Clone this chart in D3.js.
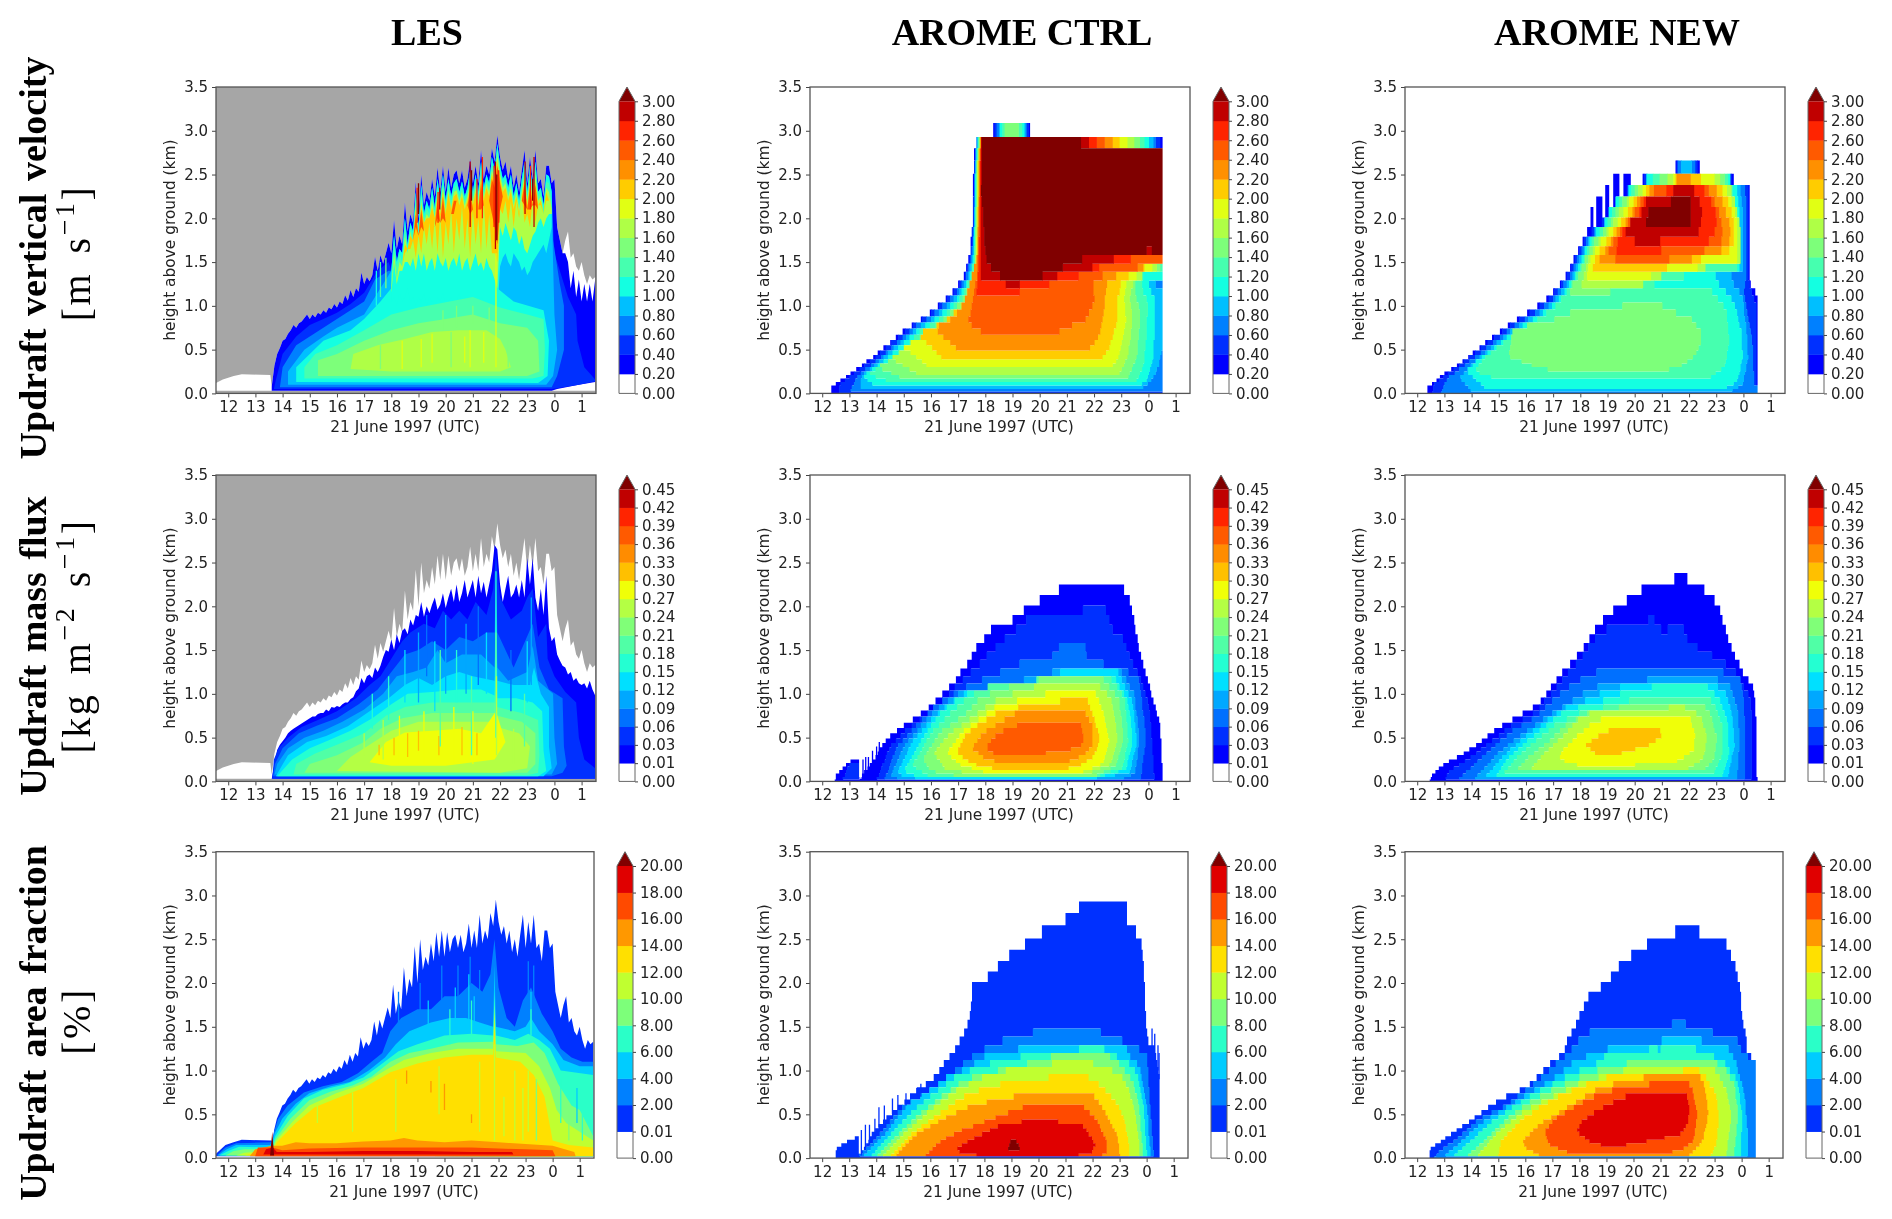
<!DOCTYPE html>
<html><head><meta charset="utf-8"><script src="https://cdn.jsdelivr.net/npm/d3@7"></script>
<style>html,body{margin:0;background:#fff}svg{display:block;filter:blur(.35px)}</style></head><body><svg id="c" width="1892" height="1219"></svg>
<script>
const columnTitles=["LES","AROME CTRL","AROME NEW"];
const hourTicks=[12,13,14,15,16,17,18,19,20,21,22,23,24,25];
const heightTicks=[0,0.5,1,1.5,2,2.5,3,3.5];
const wLabels=["0.00","0.20","0.40","0.60","0.80","1.00","1.20","1.40","1.60","1.80","2.00","2.20","2.40","2.60","2.80","3.00"];
const fluxLabels=["0.00","0.01","0.03","0.06","0.09","0.12","0.15","0.18","0.21","0.24","0.27","0.30","0.33","0.36","0.39","0.42","0.45"];
const areaLabels=["0.00","0.01","2.00","4.00","6.00","8.00","10.00","12.00","14.00","16.00","18.00","20.00"];
const wColors=["#ffffff","#0000ff","#0030ff","#0080ff","#00bfff","#14ffe1","#46ffaf","#7dff7a","#afff46","#e1ff14","#ffcc00","#ff9000","#ff5a00","#ff2400","#c00000","#800000"];
const fluxColors=["#ffffff","#0000ff","#0030ff","#0070ff","#00a8ff","#00e0ff","#24ffd2","#50ffa6","#80ff78","#b4ff44","#f0ff08","#ffc000","#ff8c00","#ff5a00","#ff2400","#c00000","#800000"];
const areaColors=["#ffffff","#0030ff","#0080ff","#00ccff","#2affc8","#7dff7a","#c0ff30","#ffe000","#ff9800","#ff4a00","#e00000","#800000"];
// model layer boundaries (km) of the AROME panels
const modelLayers=[0,.02,.05,.09,.13,.17,.21,.25,.30,.34,.39,.44,.49,.55,.61,.67,.74,.81,.88,.96,1.04,1.12,1.20,1.29,1.39,1.48,1.58,1.68,1.79,1.90,2.01,2.13,2.25,2.38,2.51,2.66,2.80,2.93,3.09];
// LES cloud-top heights, every 6 min from 13.6 h
const lesTop=[.08,.32,.45,.52,.6,.62,.68,.72,.78,.75,.8,.82,.86,.9,.85,.9,.87,.92,.9,.95,.92,.98,.96,1.02,.98,1.05,1.02,1.12,1.06,1.18,1.1,1.2,1.16,1.38,1.25,1.33,1.28,1.35,1.56,1.4,1.58,1.48,1.6,1.72,1.6,1.98,1.65,1.8,1.7,2.18,1.85,2.05,1.95,2.42,2,2.5,2.15,2.3,2.2,2.45,2.25,2.58,2.3,2.6,2.3,2.58,2.35,2.5,2.55,2.4,2.55,2.35,2.45,2.68,2.4,2.6,2.4,2.78,2.45,2.6,2.5,2.8,2.65,2.95,2.7,2.55,2.65,2.45,2.6,2.35,2.5,2.3,2.55,2.78,2.4,2.7,2.45,2.78,2.4,2.45,2.25,2.6,2.6,2.4,2.45,1.9,1.75,1.6,1.75,1.85,1.55,1.6,1.45,1.4,1.5,1.35,1.25,1.35,1.3,1.33];
const fluxTop=[.03,.2,.36,.42,.46,.5,.55,.58,.6,.62,.64,.66,.68,.7,.72,.74,.74,.77,.78,.78,.82,.8,.85,.84,.86,.85,.88,.9,.9,.94,.96,1.03,1.06,1.18,1.12,1.2,1.22,1.18,1.3,1.25,1.32,1.42,1.5,1.48,1.62,1.5,1.68,1.58,1.72,1.75,1.68,1.85,1.78,1.9,1.88,2.05,1.88,2,1.92,2.02,2.1,1.96,2.02,2.15,1.98,2.1,2.2,2.05,2.25,2.05,2.15,2.3,2.1,2.2,2.3,2.1,2.35,2.15,2.28,2.1,2.25,2.4,2.7,2.65,2.25,2.05,2.2,2.35,2.1,2.15,2.25,2.1,2.3,2.1,2.55,2.25,2.55,2.1,1.95,2.2,1.9,2.35,1.75,1.6,1.65,1.45,1.38,1.32,1.3,1.22,1.25,1.15,1.18,1.12,1.1,1.12,1.06,1.15,1.05,.98];
const lesTimes=d3.range(lesTop.length).map(i=>13.6+i/10);
const lesLeft=[11.55,.03,11.55,.12,11.8,.16,12.2,.2,12.5,.22,13.55,.21];
const env=(arr,a,b)=>lesTimes.flatMap((t,i)=>t>=a-.01&&t<=b+.01?[t,arr[i]]:[]);
// LES vertical velocity in the cloud layer: tops and bases of the streaky bands, every 6 min from 18 h
const upperTimes=d3.range(60).map(i=>18+i/10);
const coreTop=[1.4,1.8,1.5,1.65,1.6,2,1.7,1.95,1.85,2.3,1.9,2.38,2.05,2.2,2.1,2.35,2.12,2.45,2.2,2.5,2.2,2.45,2.25,2.4,2.45,2.3,2.42,2.25,2.35,2.55,2.3,2.5,2.3,2.65,2.35,2.5,2.4,2.7,2.55,2.85,2.6,2.45,2.5,2.35,2.5,2.25,2.4,2.2,2.45,2.65,2.3,2.6,2.35,2.65,2.3,2.35,2.15,2.5,2.48,2.3];
const tealTop=[1.3,1.7,1.45,1.6,1.5,1.9,1.65,1.9,1.8,2.22,1.85,2.3,2,2.12,2.05,2.28,2.08,2.38,2.15,2.42,2.15,2.4,2.2,2.35,2.38,2.25,2.35,2.2,2.3,2.5,2.25,2.42,2.25,2.58,2.3,2.45,2.35,2.62,2.5,2.8,2.55,2.4,2.45,2.3,2.42,2.2,2.35,2.15,2.38,2.58,2.25,2.52,2.3,2.58,2.25,2.3,2.1,2.42,2.4,2.2];
const tealBase=[1.05,1.1,1,1.15,1.05,1.1,1.2,1.05,1.1,1,1.1,1.05,1.15,1,1.1,1.05,1,1.1,1.05,1.15,1,1.05,1.1,1,1.05,1.15,1,1.1,1.05,1,1.1,1.05,1,1.1,1.05,1,1.05,1,.95,.9,1.45,1.55,1.6,1.5,1.45,1.6,1.55,1.5,1.4,1.45,1.35,1.4,1.5,1.55,1.6,1.65,1.7,1.6,1.75,1.9];
const limeTop=[1.2,1.6,1.3,1.5,1.45,1.8,1.6,1.85,1.7,2.15,1.75,2.2,1.95,2.05,2,2.2,2,2.3,2.1,2.35,2.1,2.32,2.12,2.3,2.32,2.2,2.3,2.15,2.25,2.42,2.2,2.35,2.2,2.5,2.25,2.4,2.3,2.55,2.45,2.72,2.5,2.35,2.4,2.25,2.35,2.15,2.3,2.1,2.3,2.5,2.2,2.45,2.25,2.5,2.2,2.25,2.05,2.35,2.3,2.1];
const limeBase=[1.15,1.5,1.25,1.4,1.4,1.5,1.5,1.45,1.55,1.4,1.6,1.45,1.6,1.4,1.5,1.55,1.4,1.6,1.5,1.45,1.55,1.4,1.5,1.55,1.45,1.6,1.4,1.5,1.55,1.4,1.5,1.6,1.45,1.5,1.4,1.55,1.45,1.4,1.3,1.2,1.9,1.8,1.95,1.85,1.75,1.9,1.85,1.7,1.8,1.65,1.6,1.7,1.8,1.85,1.95,2,1.9,2,2.05,2.05];
const goldTop=[1.2,1.3,1.3,1.4,1.45,1.7,1.65,1.8,1.75,2.1,1.8,2.15,1.95,2,2,2.12,2,2.25,2.05,2.3,2.05,2.28,2.1,2.25,2.28,2.15,2.25,2.1,2.2,2.38,2.15,2.3,2.15,2.45,2.2,2.35,2.25,2.5,2.4,2.65,2.45,2.3,2.35,2.2,2.3,2.1,2.25,2.05,2.25,2.45,2.15,2.4,2.2,2.42,2.15,2.2,2.05,2.3,2.2,2.1];
const goldBase=[1.2,1.3,1.3,1.4,1.45,1.6,1.65,1.65,1.75,1.55,1.8,1.6,1.9,1.7,1.95,1.65,2,1.6,2.05,1.55,1.95,1.7,2.1,1.6,2,1.75,2.15,1.65,2,1.55,2.1,1.7,2,1.6,2.2,1.65,2.05,1.6,1.6,1.5,2.1,2.05,2.2,1.95,2.2,1.9,2.2,2,2.25,1.95,2.05,1.9,2.2,1.95,2.15,2.15,2.05,2.2,2.2,2.1];
const redTop=[1.2,1.3,1.3,1.4,1.45,1.6,1.65,1.65,1.75,2.05,1.8,2.1,1.85,1.95,1.9,2.05,1.9,2.2,1.95,2.25,1.95,2.2,2.05,2.2,2.2,2.1,2.2,2.05,2.15,2.32,2.1,2.25,2.1,2.4,2.15,2.3,2.2,2.45,2.35,2.6,2.4,2.25,2.3,2.15,2.25,2.1,2.2,2.05,2.2,2.4,2.1,2.35,2.15,2.38,2.1,2.1,2.05,2.2,2.15,2.1];
const redBase=[1.2,1.3,1.3,1.4,1.45,1.6,1.65,1.65,1.75,1.9,1.8,1.9,1.85,1.95,1.9,2.05,1.9,2,1.95,2,1.95,2.2,2.05,2.05,2.2,2.1,2.2,2.05,2.15,2.05,2.1,2.25,2.1,2.1,2.15,2.3,2.2,2.05,1.9,1.7,2.1,2.25,2.3,2.15,2.25,2.1,2.2,2.05,2.2,2.15,2.1,2.1,2.15,2.15,2.1,2.1,2.05,2.2,2.15,2.1];
const band=(top,base)=>[...upperTimes.flatMap((t,i)=>[t,top[i]]),...[...upperTimes].reverse().flatMap(t=>[t,base[Math.round((t-18)*10)]])];
const core=upperTimes.flatMap((t,i)=>[t,coreTop[i]]);

// ---- Updraft vertical velocity: [band, [hour, km, hour, km, ...]]
const lesW=[
[0,[...lesLeft,...env(lesTop,13.6,25.6),25.5,.03]],
[1,[13.6,.03,...env(lesTop,13.6,24.3),24.4,1.6,24.5,1.5,24.6,1.2,24.7,1.4,24.8,1.1,24.9,1.3,25,1.05,25.1,1.25,25.2,1.05,25.3,1.25,25.4,1.05,25.5,1.3,25.5,.13,24.9,.1,24.1,.05,23.9,.03]],
[2,[13.68,.05,13.75,.15,14,.45,14.5,.65,15,.78,15.5,.85,16,.92,16.5,1.02,17,1.15,17.5,1.4,17.9,1.5,...core,24,1.6,24.2,1.4,24.5,1.1,24.8,.9,24.85,.6,25.1,.3,25.5,.16,25.5,.14,24.9,.1,24.1,.06,23.9,.05]],
[3,[13.9,.07,14,.3,14.5,.55,15,.65,15.5,.75,16,.85,16.5,.95,17,1.05,17.4,1.3,17.9,1.4,...core,23.95,1.75,24.2,1.25,24.35,1,24.35,.5,24.1,.2,23.9,.07]],
[4,[14.2,.1,14.2,.25,14.8,.5,15.5,.65,16,.75,17,.9,17.6,1.2,17.9,1.35,...core,23.95,1.5,24,.9,24.1,.5,23.95,.2,23.7,.1]],
[5,[14.5,.13,14.5,.3,15,.45,15.5,.6,16.5,.72,17,.85,17.6,1.05,18,1.2,19,1.2,21,1.2,21.9,1.2,22.5,1.05,23.6,.95,23.8,.6,23.75,.2,23.4,.12]],
[5,band(coreTop,tealBase)],
[6,[14.8,.17,14.8,.3,15.2,.45,16,.55,17,.72,18,.9,19,.98,21,1.1,22,.98,23,.9,23.6,.85,23.65,.5,23.6,.2,23.2,.17]],
[6,band(tealTop,limeBase)],
[7,[15.3,.2,15.3,.38,16,.45,17,.6,18,.72,19,.8,20,.85,21,.9,22,.8,23,.75,23.4,.6,23.45,.25,23,.2]],
[8,[16.5,.28,16.6,.45,17.5,.55,18.5,.62,19.5,.7,20.5,.72,21.5,.72,22,.62,22.2,.5,22.4,.3,22,.25,18,.25]],
[8,band(limeTop,limeBase)],
[10,band(goldTop,goldBase)],
[12,band(redTop,redBase)]
];
const lesWStreaks=[[21.83,1.65,2.65,14],[21.88,1.75,2.5,15],[21.78,1.9,2.6,13],[21.95,1.95,2.55,13],[21.85,.3,1.6,9],[18.95,1.95,2.35,13],[19,2.05,2.4,15],[19.72,1.95,2.3,13],[19.78,2.1,2.35,14],[20.9,1.9,2.65,14],[20.95,2.2,2.55,15],[21.15,2,2.45,13],[21.35,2,2.7,13],[22.92,2.05,2.65,14],[23.12,2.1,2.6,13],[23.2,2.2,2.45,15],[23.25,1.9,2.7,14],[17.6,1.1,1.5,6],[17.45,1,1.4,5],[17.8,1.2,1.55,7],[19.5,.35,.68,9],[20.7,.35,.65,9],[20.9,.3,.72,9],[21.4,.35,.7,9],[19.1,.3,.62,9],[18.4,.28,.6,9],[17.6,.28,.55,7],[22.3,.3,.6,7],[20.2,.3,.7,7],[19.9,.72,.95,7],[20.4,.75,1,7],[21,.8,1,7],[21.6,.72,.98,7]];
const ctrlW=[
[1,[12.35,0,12.35,.08,13.13,.25,13.97,.44,14.82,.67,15.38,.8,15.8,.88,16.37,1.03,16.87,1.18,17.22,1.35,17.43,1.58,17.53,1.98,17.57,2.66,17.67,2.93,18.29,2.93,18.29,3.09,19.64,3.09,19.64,2.93,24.5,2.93,24.5,0]],
[2,[12.62,0,12.62,.1,13.25,.25,14.05,.44,14.88,.67,15.42,.8,15.86,.88,16.42,1.03,16.92,1.18,17.26,1.35,17.46,1.58,17.55,1.98,17.59,2.66,17.69,2.93,18.35,2.93,18.35,3.09,19.6,3.09,19.6,2.93,24.4,2.93,24.4,2.8,24.5,2.8,24.5,0]],
[3,[13,.02,13.3,.2,14.1,.4,14.95,.64,15.48,.78,15.92,.86,16.47,1.01,16.97,1.16,17.3,1.33,17.49,1.56,17.58,1.98,17.61,2.66,17.71,2.93,18.42,2.93,18.42,3.09,19.52,3.09,19.52,2.93,24.27,2.93,24.27,2.8,24.5,2.8,24.5,.02]],
[4,[13.4,.06,13.45,.2,14.2,.4,15,.62,15.52,.76,15.97,.84,16.52,.98,17.02,1.14,17.33,1.31,17.52,1.54,17.6,1.98,17.63,2.66,17.73,2.93,18.5,2.93,18.5,3.09,19.45,3.09,19.45,2.93,24.15,2.93,24.15,2.8,24.5,2.8,24.5,1.33,24.25,1.33,24.25,1.22,24.48,1.2,24.48,.5,24.35,.3,24.1,.15,23.8,.07]],
[5,[13.9,.09,13.5,.2,14.3,.38,15.05,.6,15.58,.74,16.05,.82,16.58,.96,17.07,1.12,17.36,1.29,17.55,1.52,17.62,1.98,17.65,2.66,17.75,2.93,18.55,2.93,18.55,3.09,19.4,3.09,19.4,2.93,24,2.93,24,2.8,24.5,2.8,24.5,1.33,24,1.33,24,1.2,24.2,1.1,24.2,.7,24.15,.4,23.9,.12,23.5,.09]],
[6,[14.5,.13,13.7,.22,14.5,.38,15.2,.58,15.65,.72,16.12,.8,16.65,.94,17.12,1.1,17.39,1.27,17.57,1.5,17.64,1.98,17.67,2.66,17.77,2.93,18.62,2.93,18.62,3.09,19.32,3.09,19.32,2.93,23.85,2.93,23.85,2.8,24.5,2.8,24.5,1.4,24,1.39,23.75,1.33,23.75,1.2,23.95,1.05,23.92,.7,23.8,.3,23.5,.13]],
[7,[15,.17,14,.3,14.75,.42,15.3,.55,15.75,.7,16.2,.78,16.72,.92,17.17,1.08,17.42,1.25,17.6,1.48,17.66,1.98,17.69,2.66,17.79,2.93,18.72,2.93,18.72,3.09,19.22,3.09,19.22,2.93,23.65,2.93,23.65,2.8,24.5,2.8,24.5,1.45,24.2,1.39,23.8,1.39,23.5,1.29,23.5,1.1,23.68,.95,23.64,.7,23.55,.4,23.2,.17]],
[8,[15.5,.22,14.5,.4,15.3,.55,15.8,.68,16.3,.77,16.8,.9,17.22,1.06,17.45,1.23,17.63,1.46,17.68,1.98,17.71,2.66,17.81,2.93,23.45,2.93,23.45,2.8,24.5,2.8,24.5,1.48,24.05,1.39,23.45,1.29,23.3,1.1,23.4,.9,23.35,.7,23.2,.4,22.9,.22]],
[9,[16,.28,14.96,.53,15.5,.62,15.9,.68,16.4,.75,16.9,.88,17.27,1.04,17.48,1.21,17.65,1.44,17.7,1.98,17.73,2.66,17.82,2.93,23.2,2.93,23.2,2.8,24.5,2.8,24.5,1.5,23.85,1.39,23.2,1.29,23.1,1.1,23.15,.85,23.07,.7,22.9,.42,22.6,.28]],
[10,[16.5,.38,15.5,.68,16,.74,16.5,.82,16.95,.95,17.3,1.02,17.5,1.19,17.67,1.42,17.72,1.98,17.75,2.66,17.83,2.93,22.93,2.93,22.93,2.8,24.5,2.8,24.5,1.52,23.5,1.39,23,1.29,22.85,1.1,22.85,.85,22.72,.7,22.5,.5,22.2,.38]],
[11,[17,.5,16.1,.74,16.8,.86,17.22,1.04,17.44,1.29,17.7,1.55,17.74,1.98,17.77,2.66,17.84,2.93,22.65,2.93,22.65,2.8,24.5,2.8,24.5,1.48,23.1,1.39,22.5,1.29,22.4,1.1,22.3,.85,22.15,.65,21.8,.5]],
[12,[17.36,.8,17.57,1.1,17.72,1.4,17.76,1.98,17.79,2.66,17.85,2.93,22.37,2.93,22.37,2.8,24.5,2.8,24.5,1.48,22.65,1.39,21.95,1.29,22,1.06,21.66,.84,21.03,.76,20.5,.67,18,.67]],
[13,[17.65,1.12,17.75,1.45,17.78,1.98,17.8,2.66,17.85,2.93,22.08,2.93,22.08,2.8,24.5,2.8,24.5,1.58,23.35,1.58,23.35,1.48,22.15,1.48,22.15,1.39,21.4,1.39,21.4,1.29,20.35,1.29,20.35,1.2,19.26,1.2,19.26,1.12]],
[14,[17.82,1.29,17.82,1.98,17.83,2.66,17.86,2.93,21.8,2.93,21.8,2.8,24.5,2.8,24.5,1.58,22.72,1.58,22.72,1.48,22.08,1.48,21.75,1.39,20.65,1.39,20.6,1.29,19.26,1.29,19.26,1.2,18.75,1.2,18.75,1.29]],
[15,[18.06,1.39,17.85,2.28,17.87,2.93,21.52,2.93,21.52,2.8,24.5,2.8,24.5,1.58,24.12,1.58,24.12,1.69,23.9,1.69,23.9,1.58,22.08,1.58,21.03,1.48,20.6,1.39,19.6,1.29,18.77,1.29,18.28,1.39,18.06,1.5]]
];
const newW=[
[1,[12.38,0,12.38,.07,12.92,.21,13.64,.36,14.47,.57,15.44,.8,16.2,.95,16.83,1.1,17.25,1.25,17.53,1.37,17.8,1.56,18.15,1.79,18.36,1.9,18.36,2.13,18.44,2.13,18.44,1.9,18.6,1.9,18.6,2.25,18.78,2.25,18.78,2,18.92,2,18.92,2.38,19.06,2.38,19.06,2.07,19.22,2.1,19.22,2.51,19.4,2.51,19.4,2.19,19.6,2.25,19.6,2.51,19.82,2.51,19.82,2.38,20.28,2.38,20.28,2.51,21.49,2.51,21.49,2.66,22.36,2.66,22.36,2.51,23.64,2.51,23.64,2.38,24.19,2.38,24.19,1.29,24.28,1.2,24.4,1.2,24.4,1.12,24.51,1.12,24.51,0]],
[2,[12.55,0,12.6,.1,13,.2,13.7,.36,14.55,.57,15.5,.8,16.3,.95,16.9,1.1,17.3,1.25,17.58,1.37,17.85,1.56,18.2,1.79,18.45,1.85,18.8,1.95,19.06,2.07,19.4,2.19,19.72,2.32,20.35,2.38,20.35,2.51,21.55,2.51,21.55,2.66,22.3,2.66,22.3,2.51,23.55,2.51,23.55,2.38,24.15,2.38,24.15,1.29,24.3,1.2,24.3,1.12,24.45,1.05,24.45,.1,24.51,.08,24.51,0]],
[3,[12.85,0,13.1,.17,13.8,.33,14.65,.55,15.6,.78,16.4,.93,17,1.08,17.35,1.23,17.63,1.35,17.9,1.54,18.25,1.75,18.5,1.85,18.85,1.95,19.1,2.07,19.45,2.19,19.75,2.32,20.4,2.38,20.4,2.51,21.6,2.51,21.6,2.66,22.22,2.66,22.22,2.51,23.45,2.51,23.45,2.38,24.02,2.38,24.1,2.2,24.1,1.3,24,1.2,24.15,.9,24.3,.6,24.38,.1,24.51,.08,24.51,0]],
[4,[14,.02,13.55,.18,14,.33,14.8,.55,15.65,.76,16.5,.92,17.05,1.06,17.4,1.2,17.68,1.33,17.95,1.52,18.3,1.75,18.55,1.85,18.88,1.95,19.15,2.07,19.5,2.19,19.78,2.32,20.42,2.38,20.42,2.51,21.7,2.51,21.7,2.66,22.1,2.66,22.1,2.51,23.3,2.51,23.3,2.38,23.85,2.38,23.95,2.1,23.95,1.39,23.6,1.39,23.5,1.29,23.7,1.22,23.95,1.1,24.1,.7,24.15,.4,23.95,.1,23.5,.02]],
[5,[14.5,.06,13.8,.25,14.3,.4,14.95,.55,15.7,.74,16.55,.9,17.1,1.04,17.45,1.18,17.73,1.31,18,1.5,18.3,1.73,18.6,1.85,18.9,1.95,19.05,2.07,19.3,2.19,19.8,2.32,20.45,2.38,20.45,2.51,23.5,2.51,23.5,2.38,23.7,2.38,23.85,2.05,23.85,1.39,22.95,1.39,22.95,1.29,23.2,1.2,23.65,1.05,23.9,.7,23.95,.4,23.75,.13,23.3,.06]],
[6,[14.9,.17,14.1,.25,14.45,.4,15.05,.55,15.8,.72,16.6,.88,17.15,1.02,17.5,1.16,17.78,1.29,18.05,1.48,18.4,1.73,18.72,1.85,19,1.95,19.18,2.07,19.42,2.19,19.9,2.32,20.65,2.38,20.65,2.51,23.4,2.51,23.4,2.38,23.55,2.38,23.75,2.05,23.75,1.39,21.8,1.39,21.8,1.29,20.7,1.29,20.7,1.2,22.75,1.2,23.35,.95,23.45,.6,23.3,.3,22.7,.17]],
[7,[15.37,.42,15.5,.72,16.5,.82,17.6,.87,17.65,.96,19.55,.96,19.55,1.04,21,1.04,21,.96,22,.88,22.4,.72,22.4,.55,22.1,.4,21.6,.3,20.9,.25,17.2,.25,16.4,.3,15.7,.38]],
[7,[17.65,1.12,17.62,1.2,17.83,1.29,18.1,1.48,18.5,1.73,18.85,1.85,19.1,1.95,19.3,2.07,19.55,2.19,20,2.32,20.9,2.38,20.9,2.51,23.3,2.51,23.3,2.38,23.45,2.38,23.65,2.05,23.65,1.48,21.7,1.48,21.7,1.39,21.05,1.39,20,1.29,19.2,1.2,19,1.12]],
[8,[18.02,1.2,18.3,1.55,18.65,1.73,18.95,1.85,19.2,1.95,19.4,2.07,19.7,2.19,20.15,2.32,21.2,2.38,21.2,2.51,23,2.51,23.25,2.38,23.6,2.3,23.85,1.9,23.9,1.48,21.3,1.39,20,1.2]],
[9,[18.2,1.3,18.4,1.55,18.75,1.73,19.05,1.85,19.35,1.95,19.6,2.07,19.8,2.19,20.3,2.32,21.4,2.38,21.4,2.51,22.75,2.51,23.1,2.38,23.45,2.3,23.75,2,23.75,1.5,21.3,1.39,20,1.3]],
[10,[18.45,1.39,18.55,1.55,18.95,1.73,19.2,1.85,19.5,1.95,19.75,2.07,19.95,2.19,20.45,2.32,21.5,2.38,21.5,2.51,22.4,2.51,22.4,2.38,22.9,2.38,23.3,2.3,23.6,2,23.65,1.7,23.35,1.58,21.45,1.48,20.85,1.39]],
[11,[18.6,1.48,18.9,1.63,19.1,1.73,19.35,1.85,19.65,1.95,19.9,2.07,20.1,2.19,20.55,2.32,21.55,2.38,21.55,2.51,22.05,2.51,22.05,2.38,22.7,2.38,23.05,2.3,23.45,1.98,23.5,1.75,23.05,1.58,21.1,1.48]],
[12,[19.02,1.55,19.05,1.68,19.25,1.75,19.45,1.85,19.75,1.95,20,2.07,20.2,2.19,20.75,2.32,20.75,2.38,22.55,2.38,22.85,2.26,23.15,2,23.25,1.79,23.1,1.68,22,1.58,21.45,1.58,21.05,1.48,20,1.48]],
[13,[19.35,1.58,19.35,1.73,19.55,1.85,19.9,1.95,20.15,2.07,20.35,2.19,21.2,2.32,21.2,2.38,22.4,2.38,22.65,2.26,22.95,2.1,23,1.9,22.85,1.79,22.6,1.68,21,1.68,20.9,1.58]],
[14,[20,1.68,20,1.79,19.65,1.79,19.65,1.92,20.2,2.02,20.35,2.13,20.5,2.26,21.4,2.26,21.4,2.38,22.15,2.38,22.15,2.26,22.35,2.26,22.5,2.02,22.4,1.92,22.25,1.79,20.9,1.79,20.9,1.68]],
[15,[20.38,1.92,20.52,2.13,21.35,2.13,21.35,2.26,22.05,2.26,22.05,1.92]]
];
// ---- Updraft mass flux
const lesFlux=[
[0,[...lesLeft,...env(lesTop,13.6,25.6),25.5,.03]],
[1,[13.6,.03,...env(fluxTop,13.6,25.6),25.5,.03]],
[2,[13.62,.03,13.68,.25,13.85,.38,14.2,.5,14.7,.62,15.3,.7,16,.8,16.7,.95,17.2,1.1,17.6,1.2,18,1.4,18.4,1.6,18.7,1.7,19.2,1.8,19.6,1.75,19.9,1.95,20.2,1.85,20.5,1.95,20.8,1.85,21.1,2.05,21.5,1.9,21.75,2.2,21.85,2.6,22,2.1,22.4,1.85,22.8,1.95,23,2.1,23.2,2.2,23.4,1.65,23.7,1.8,23.75,1.4,24,1.2,24.4,1.02,24.8,.9,24.9,.5,25.1,.25,25.5,.15,25.5,.03]],
[3,[13.65,.06,13.72,.2,14,.38,14.6,.55,15.3,.64,16,.72,16.8,.88,17.5,1.05,18,1.25,18.5,1.45,19,1.5,19.5,1.6,20,1.5,20.5,1.65,21,1.6,21.5,1.7,21.8,1.7,21.85,2.5,21.9,1.7,22.5,1.3,23.2,1.8,23.45,1.3,23.8,1.05,24.3,.95,24.35,.4,24.45,.18,24.3,.1,23.9,.06]],
[4,[13.7,.08,13.8,.2,14.2,.38,14.8,.5,15.5,.58,16.2,.68,17,.82,17.7,1,18.2,1.2,18.8,1.25,19.3,1.3,19.7,1.5,20,1.35,20.6,1.45,21.3,1.45,21.8,1.3,21.85,2.3,21.9,1.3,22.3,1.15,23,1.25,23.2,1.55,23.4,1.15,23.95,1,24,.5,24.1,.2,23.9,.08]],
[5,[13.75,.06,14.2,.3,14.9,.45,15.6,.52,16.4,.63,17.2,.8,17.9,.95,18.5,1.1,19,1.18,19.5,1.1,20,1.2,20.5,1.25,21,1.2,21.8,1.15,21.85,2.1,21.9,1.15,22.5,1.1,23.1,1.1,23.25,1.3,23.5,1,23.8,.85,23.8,.4,23.9,.15,23.6,.06]],
[6,[13.8,.06,14.35,.25,15,.38,15.7,.47,16.5,.58,17.3,.72,18,.88,18.6,1,19.5,1.02,20.5,1.05,21.3,1.05,21.8,.98,21.85,1.8,21.9,.95,22.6,.95,23.2,.9,23.55,.8,23.6,.35,23.7,.12,23.4,.06]],
[7,[14.4,.08,14.5,.2,15.2,.32,16,.42,17,.55,17.8,.75,18.5,.85,19.5,.9,20.5,.9,21.8,.9,21.85,1.5,21.9,.85,22.8,.78,23.4,.7,23.45,.3,23.4,.1,23,.07]],
[8,[14.8,.1,15,.2,16,.3,17,.45,17.6,.6,18.4,.72,19.5,.78,21.8,.78,21.85,1.3,21.9,.75,22.8,.68,23.3,.55,23.3,.2,23,.1]],
[9,[16,.12,16.5,.28,17.2,.42,18,.58,19,.68,21.8,.68,21.85,1.1,21.9,.62,22.7,.55,23.1,.4,23,.15,22,.1]],
[10,[17.2,.22,17.8,.45,18.5,.56,19.5,.58,20.5,.6,21.3,.55,21.85,.8,22.2,.45,21.8,.25,20,.18,18,.18]]
];
const lesFluxStreaks=[[17.55,.3,.42,11],[18.1,.3,.5,11],[18.6,.28,.55,11],[19,.35,.58,11],[19.75,.3,.52,11],[20.6,.3,.62,11],[21.15,.3,.55,11],[21.85,.5,2.4,6],[21.85,.8,1.7,7],[21.87,.3,1.2,9],[18.5,.9,1.5,5],[19,.9,1.7,4],[19.3,1.2,1.9,3],[19.6,.8,1.6,5],[20,1,1.9,4],[20.4,.9,1.5,6],[20.75,1,1.8,4],[21.2,1.1,2,3],[21.5,1,1.7,5],[22.4,.8,1.5,3],[23,.9,1.6,5],[23.15,1.1,2.1,4],[17.9,.7,1.2,6],[17.3,.6,1,6],[17,.3,.55,9],[17.7,.25,.7,9],[18.3,.2,.75,10],[19.2,.2,.8,10],[20.3,.2,.85,10],[21,.2,.8,10],[22.5,.2,.6,9],[19.8,.4,1.5,7],[20.95,.3,1.2,7],[22.9,.4,1,7]];
const ctrlFlux=[
[1,[12.47,0,12.5,.08,12.85,.18,13.1,.25,13.33,.25,13.35,.02,13.4,.05,13.9,.25,14.2,.42,14.6,.55,15.2,.68,15.5,.74,15.95,.85,16.3,.96,16.75,1.1,17,1.2,17.3,1.33,17.6,1.5,18,1.65,18.4,1.8,18.77,1.78,19.2,1.9,19.64,2.01,20.32,2.13,21.14,2.26,22.86,2.26,23.24,2.13,23.42,1.92,23.64,1.5,23.85,1.27,24.13,.96,24.41,.66,24.51,0]],
[2,[12.75,.02,13,.2,13.33,.2,13.33,.02]],
[2,[14,.02,14.5,.4,15.1,.6,15.5,.68,16,.8,16.5,.95,17,1.12,17.6,1.28,18.1,1.45,18.6,1.6,19.2,1.75,19.5,1.85,20.3,1.95,21.5,1.95,22.4,2,22.6,1.75,23,1.65,23.25,1.45,23.65,1.2,24,.9,24.1,.5,24.2,.02]],
[3,[14.3,.03,14.75,.4,15.5,.65,16.1,.85,16.7,.98,17.4,1.1,18.2,1.2,19,1.3,19.5,1.38,20.1,1.38,20.7,1.47,20.7,1.57,21.65,1.57,21.65,1.47,21.8,1.39,23,1.28,23.6,1.2,23.75,.9,23.9,.5,23.7,.03]],
[4,[14.5,.05,15,.4,15.8,.7,16.3,.85,17,1,18,1.05,19,1.13,20,1.2,20.8,1.28,22.95,1.28,23.45,1,23.65,.5,23.5,.1,23,.02,15,.02]],
[5,[14.75,.08,15.3,.45,16,.7,16.6,.87,17.3,1.02,19.5,1.1,20.4,1.2,21,1.28,22.8,1.28,23.4,.9,23.55,.45,23.3,.1,22,.03,15.5,.03]],
[6,[15,.12,15.8,.55,16.4,.8,17,.95,17.7,1.05,20,1.14,20.5,1.2,22.7,1.2,23.25,.9,23.4,.45,23.15,.13,22,.04,15.6,.04]],
[7,[15.3,.18,16,.55,16.8,.8,17.3,.95,18.2,1.1,19.5,1.14,20.6,1.2,22.6,1.18,23.1,.95,23.25,.45,23,.15,22,.05,16,.05]],
[8,[15.7,.25,16.3,.55,17.2,.75,17.8,.95,18.5,1.05,20.2,1.18,21,1.2,22.3,1.18,22.9,.95,23.05,.5,22.8,.18,22,.06,17,.06,16,.12]],
[9,[16.1,.33,16.7,.55,17.5,.72,18.2,.9,19,1,20.2,1.12,22,1.15,22.6,.95,22.85,.5,22.6,.2,21.6,.07,17.6,.08,16.5,.15]],
[10,[16.6,.33,17.1,.55,17.8,.72,18.5,.88,20,.97,20.5,1.05,22,1.05,22.4,.7,22.55,.45,22.3,.2,21.5,.1,18,.1,17,.2]],
[11,[16.95,.33,17.3,.55,18,.7,18.5,.8,19.3,.85,20.7,.85,20.75,.95,21.7,.95,22,.7,22.2,.5,22,.3,21.6,.2,20.8,.13,18.4,.14,17.5,.2]],
[12,[17.5,.38,17.9,.55,18.6,.68,19.2,.8,21.6,.8,21.9,.65,21.9,.4,21.6,.3,21,.22,18.8,.2,18,.25]],
[13,[18,.38,18.4,.53,18.9,.62,19.4,.66,21.5,.66,21.6,.5,21.55,.42,21,.35,20.2,.32,19.4,.28,18.4,.3]]
];
const ctrlFluxStreaks=[[13.42,.03,.2,0],[13.5,.05,.25,1],[13.6,.08,.28,1],[13.7,.1,.28,1],[13.85,.2,.35,1],[14,.25,.4,1],[14.1,.3,.45,1]];
const newFlux=[
[1,[12.45,0,12.55,.08,13,.2,13.5,.28,14.1,.4,14.6,.52,15,.62,15.6,.72,16,.8,16.4,.87,16.75,1,17.1,1.15,17.5,1.3,17.9,1.45,18.2,1.55,18.6,1.78,19,1.9,19.4,2,20,2.13,20.5,2.25,21.4,2.25,21.55,2.38,21.9,2.38,21.9,2.25,22.4,2.25,22.75,2.12,23.1,2,23.3,1.75,23.5,1.55,23.8,1.35,24.05,1.2,24.3,1.1,24.4,.95,24.45,.7,24.45,.1,24.5,0]],
[2,[13,.02,13.2,.12,13.85,.25,14.5,.4,15,.52,15.6,.68,16.05,.72,16.5,.85,16.9,1,17.3,1.15,17.7,1.3,18.05,1.42,18.35,1.55,18.7,1.7,19.4,1.8,20.5,1.8,20.5,1.9,20.7,1.9,20.7,1.8,20.95,1.75,20.95,1.69,21.2,1.69,21.2,1.8,21.75,1.8,21.95,1.58,22.6,1.48,23.1,1.38,23.6,1.3,23.8,1.2,24.25,.95,24.3,.6,24.3,.02]],
[3,[13.5,.02,14.4,.28,15,.45,15.6,.6,16.3,.72,16.9,.9,17.3,1.02,17.8,1.12,18.15,1.19,18.85,1.28,22.8,1.28,23.85,1.2,24,.9,24.05,.5,24.05,.02]],
[4,[14.1,.03,14.9,.3,15.6,.48,16.5,.68,17.5,.88,18.2,1.02,18.9,1.12,20.45,1.12,20.45,1.19,22.8,1.19,23.5,1.1,23.75,.85,23.85,.5,23.75,.03]],
[5,[14.5,.05,15.2,.3,16,.52,17,.75,17.6,.87,18.5,.95,18.8,1.03,20,1.12,22.85,1.12,23.3,1.03,23.55,.8,23.65,.4,23.4,.05]],
[6,[14.9,.07,15.3,.25,16,.45,16.9,.68,17.5,.82,18.5,.88,19.7,1.03,21,1.1,22.6,1.1,23.1,.95,23.4,.7,23.45,.3,23.2,.07]],
[7,[15.2,.1,15.6,.25,16.3,.45,17.1,.65,18,.78,19.5,.9,20.4,.96,22.3,1,22.9,.9,23.2,.65,23.2,.3,22.9,.1]],
[8,[15.6,.12,16,.25,16.7,.42,17.5,.65,18.3,.78,19.5,.85,20.6,.9,22.4,.92,22.8,.75,23,.5,22.9,.25,22.5,.12]],
[9,[16.2,.15,16.6,.3,17.3,.5,17.9,.7,18.6,.82,21.8,.85,22.4,.75,22.65,.5,22.5,.25,21.8,.12,17,.12]],
[10,[17.2,.25,17.4,.38,18,.55,18.5,.68,19,.73,22,.73,22.2,.55,22.15,.35,21.5,.22,19,.17,18,.18]],
[11,[18.2,.42,18.7,.53,19.2,.6,20.9,.6,20.95,.5,20.4,.4,19.5,.32,18.6,.3]]
];
// ---- Updraft area fraction
const lesArea=[
[1,[11.55,.02,11.55,.05,11.9,.15,12.2,.18,12.5,.21,13.6,.2,...env(lesTop,13.6,25.6),25.5,.02]],
[2,[11.58,.03,11.9,.12,12.3,.17,13.55,.18,13.62,.2,13.7,.3,13.85,.45,14.2,.6,14.8,.75,15.5,.82,16.2,.87,16.8,.97,17.3,1.1,17.7,1.2,18,1.45,18.4,1.6,19,1.7,19.5,1.7,20,1.85,20.5,1.85,21,2,21.4,1.9,21.7,2.1,21.85,2.5,22,1.95,22.3,1.6,22.6,1.5,22.9,1.8,23.2,1.95,23.4,1.8,23.6,1.65,24,1.45,24.3,1.25,24.7,1.15,25.1,1.1,25.5,1.1,25.5,.02]],
[3,[11.62,.03,11.95,.1,12.3,.15,13.55,.15,13.62,.18,13.72,.28,14,.45,14.5,.62,15,.74,15.8,.82,16.5,.87,17.2,1,17.8,1.15,18.2,1.3,18.7,1.45,19.5,1.55,20.2,1.6,20.8,1.6,21.3,1.55,21.8,1.5,21.85,2.2,21.9,1.5,22.6,1.45,23,1.5,23.2,1.6,23.5,1.45,24,1.3,24.4,1.12,25,1.05,25.5,1.05,25.5,.02]],
[4,[11.68,.03,12,.08,12.4,.13,13.5,.12,13.63,.15,13.74,.25,14.2,.48,14.8,.68,15.5,.78,16.3,.84,17,.92,17.7,1.08,18.3,1.22,19,1.3,20,1.4,21,1.42,21.8,1.4,21.85,1.9,21.9,1.4,22.6,1.35,23.1,1.42,23.5,1.35,23.9,1.25,24.3,1,25.5,.95,25.5,.02]],
[5,[11.9,.03,12.2,.08,12.6,.1,13.5,.1,13.64,.12,13.76,.22,14.3,.45,15,.66,15.8,.76,16.6,.83,17.3,.93,18,1.1,18.7,1.2,19.5,1.25,20.5,1.32,21.8,1.33,21.85,1.75,21.9,1.3,22.7,1.28,23.3,1.32,23.7,1.2,24.2,.85,24.7,.6,25,.55,25.25,.4,25.5,.25,25.5,.02]],
[6,[12.3,.03,12.6,.06,13.5,.08,13.65,.1,13.78,.2,14.4,.42,15,.6,16,.74,17,.85,17.8,1,18.5,1.12,19.5,1.2,20.5,1.25,21.8,1.25,21.85,1.65,21.9,1.22,23,1.2,23.5,1.05,23.9,.8,24.15,.55,24.5,.4,25,.3,25.5,.2,25.5,.02]],
[7,[12.6,.03,13,.06,13.66,.08,13.8,.18,14.5,.4,15.2,.58,16,.68,17,.8,18,.98,19,1.08,20,1.15,21,1.18,21.8,1.18,21.85,1.5,21.9,1.15,22.8,1.1,23.3,.95,23.7,.7,23.85,.45,24,.2,24.6,.15,25.5,.12,25.5,.02]],
[8,[12.8,.02,13,.1,13.62,.14,14,.14,14.5,.18,15,.17,16,.17,17,.19,18,.2,18.5,.23,19,.2,20,.18,21,.2,22,.18,23,.16,24,.14,24.8,.07,24.85,.02]],
[9,[13,.02,13.1,.12,13.63,.12,14,.09,15,.11,17,.12,19,.12,21,.12,23,.1,24,.09,24.1,.02]],
[10,[13.3,.04,13.4,.1,13.65,.12,13.8,.07,15,.07,17,.08,19,.08,21,.07,22.5,.07,22.55,.04]],
[11,[13.55,.03,13.63,.3,13.7,.03]]
];
const lesAreaStreaks=[[18.6,.85,1,8],[19.5,.75,.88,8],[21,.4,.5,8],[20,.55,.85,8],[23.1,.3,1,6],[24.3,.4,.9,4],[24.9,.4,.8,3],[21.85,.2,1.3,6],[22.9,.2,.8,6],[22.2,.25,.7,6],[18.3,1.4,1.9,2],[19.1,1.6,2,2],[19.9,1.7,2.2,2],[20.5,1.8,2.2,2],[20.95,1.8,2.3,2],[21.3,1.8,2.15,2],[23.1,1.7,2.25,2],[23.3,1.8,2.2,2],[19.4,1.4,1.8,3],[20.4,1.5,1.95,3],[20.9,1.5,2.1,3],[21.1,1.5,1.85,3],[23.2,1.5,1.9,3],[20.2,1.3,1.7,4],[21,1.35,1.8,4],[23.2,1.4,1.7,4],[15.3,.4,.6,6],[16.6,.3,.75,6],[18.2,.3,.9,6],[19.8,.5,1.05,6],[21.3,.3,1.1,6],[22.6,.2,1,6],[23.4,.2,.9,5],[24.6,.2,.55,5],[25.1,.2,.5,4]];
const ctrlArea=[
[1,[12.5,0,12.5,.1,12.8,.17,13,.2,13.33,.25,13.36,.02,13.9,.3,14.5,.5,15.1,.66,15.6,.8,16,.88,16.39,1.02,16.6,1.12,16.82,1.19,16.99,1.28,17.17,1.38,17.31,1.47,17.41,1.57,17.55,1.78,17.55,2,18.13,2,18.13,2.13,18.49,2.13,18.49,2.25,18.91,2.25,18.91,2.38,19.48,2.38,19.48,2.51,20.14,2.51,20.14,2.66,21,2.66,21,2.8,21.49,2.8,21.49,2.93,23.26,2.93,23.26,2.66,23.59,2.66,23.59,2.51,23.8,2.51,23.8,2.38,23.87,2.25,23.97,1.46,24.05,1.3,24.3,1.25,24.45,.95,24.47,0]],
[2,[13.37,.03,14.2,.3,15,.6,15.6,.7,16.4,.85,17.1,1.05,17.7,1.2,18.2,1.28,19,1.38,19.8,1.38,19.8,1.48,22.3,1.48,22.3,1.38,23.1,1.38,23.1,1.28,23.5,1.28,24,1.2,24.1,.6,24.15,.4,24.25,.03]],
[3,[13.5,.02,14.4,.3,15.2,.62,16,.78,16.6,.92,17.4,1.03,17.9,1.15,18.5,1.2,19,1.2,19.3,1.25,20.43,1.29,23.19,1.29,23.3,1.18,23.7,1.05,24,.6,24.05,.3,24.15,.02]],
[4,[13.8,.02,14.6,.3,15.4,.55,16.2,.75,17,.95,17.7,1.03,18.2,1.08,19,1.15,20.3,1.19,21.5,1.19,21.5,1.29,22.4,1.29,22.4,1.19,23.2,1.14,23.65,.95,23.85,.6,23.95,.2,24,.02]],
[5,[14,.02,14.9,.3,15.6,.5,16.4,.7,17.2,.88,18,.97,19,1.03,19.8,1.1,20.8,1.19,22.5,1.19,22.9,1.1,23.45,.9,23.7,.6,23.8,.2,23.85,.02]],
[6,[14.2,.02,15.1,.3,16,.55,17,.78,18,.93,18.8,1,20,1.05,21.2,1.12,21.6,1.12,22.5,1.03,23.05,.95,23.35,.75,23.55,.5,23.7,.2,23.7,.02]],
[7,[14.5,.02,15.3,.28,16.3,.5,17.2,.7,18,.8,19,.88,20,.9,20.9,.95,21.7,.95,22.2,.85,22.7,.7,23.1,.5,23.3,.2,23.35,.02]],
[8,[14.7,.02,15.5,.28,16.5,.45,17.5,.6,18.7,.68,19.5,.73,22,.73,22.5,.5,22.9,.25,23,.02]],
[9,[15.8,.02,16.3,.18,17,.3,17.9,.4,18.7,.5,19.6,.6,21.6,.6,22.1,.45,22.5,.2,22.5,.05,22.2,.02]],
[10,[16.9,.08,17.3,.18,17.9,.27,18.6,.38,19.7,.43,20.3,.43,21.6,.38,21.8,.3,22.1,.15,21.9,.05,21,.02,18,.02]],
[11,[18.85,.1,18.95,.2,19.15,.2,19.3,.13,19.3,.1]]
];
const ctrlAreaStreaks=[[13.45,.03,.32,1],[13.6,.1,.38,1],[13.75,.15,.38,1],[13.95,.25,.45,1],[14.1,.35,.58,1],[14.3,.42,.6,1],[14.6,.5,.68,1],[14.8,.55,.72,1],[15.1,.6,.74,1],[15.5,.7,.8,1],[15.65,.7,.85,1],[24.2,1.2,1.48,1],[24.3,1.1,1.42,1],[24.42,1,1.29,1],[24.46,.9,1.2,1]];
const newArea=[
[1,[12.45,0,12.45,.1,12.9,.2,13.6,.35,14,.43,14.5,.55,15,.66,15.4,.72,16,.8,16.3,.88,16.5,.95,17,1.1,17.4,1.2,17.6,1.38,17.9,1.55,18.1,1.7,18.4,1.88,19,2,19.3,2.13,19.6,2.25,20.2,2.38,20.8,2.51,21.55,2.51,21.55,2.66,22.4,2.66,22.4,2.51,23.4,2.51,23.45,2.38,23.7,2.25,23.9,2,24,1.6,24.15,1.4,24.15,1.2,24.5,1.12,24.5,0]],
[2,[12.6,0,12.9,.1,13.6,.25,14.3,.45,15.3,.6,16.1,.8,16.7,.95,17.2,1.1,17.6,1.2,18,1.35,18.6,1.48,21.4,1.5,21.4,1.58,21.9,1.58,21.9,1.48,22.9,1.48,22.9,1.38,23.8,1.38,24,1.2,24.5,1.1,24.5,0]],
[3,[13,.02,13.6,.18,14.3,.38,15.4,.6,16.2,.75,17,.9,17.6,1.05,18,1.15,19,1.19,19.1,1.29,21,1.29,21.1,1.38,22.5,1.38,22.5,1.29,23.4,1.29,23.75,1.12,24.1,.7,24.2,.3,24.2,.02]],
[4,[13.3,.02,14,.2,14.7,.4,15.5,.58,16.4,.75,17.2,.88,18,1,18.8,1.1,19,1.19,20.6,1.19,20.6,1.29,20.8,1.29,21,1.19,21,1.29,22.3,1.29,22.3,1.19,23.2,1.15,23.8,.9,24,.5,23.95,.02]],
[5,[13.8,.02,14.5,.2,15.3,.45,16.2,.65,17,.78,18,.92,18.9,1.03,20.4,1.12,22.8,1.12,23.3,1.05,23.7,.85,23.85,.5,23.7,.02]],
[6,[14.2,.02,15,.3,16,.55,17,.7,18,.85,19,.95,20,1.03,22.5,1.03,23,1,23.4,.8,23.6,.5,23.4,.02]],
[7,[15,.02,15.1,.2,15.9,.45,16.7,.62,17.5,.75,18.3,.85,19,.92,21.5,.98,22.3,1.03,22.6,.95,23,.75,23.15,.5,23.05,.15,22.8,.02]],
[8,[16.6,.02,16,.12,15.9,.2,16.5,.38,17.4,.55,18.2,.7,18.7,.8,19.7,.88,21.4,.98,22.3,.98,22.6,.85,22.75,.5,22.55,.2,22,.02]],
[9,[17.6,.06,16.9,.15,16.7,.3,17.1,.45,17.9,.6,18.5,.7,19.6,.82,22,.88,22.2,.75,22.35,.5,22.2,.2,21.7,.08,20.5,.04,18.5,.04]],
[10,[18.4,.18,17.9,.3,18.1,.43,18.7,.55,19.3,.65,20,.74,21.9,.74,22.05,.6,22,.4,21.7,.27,21,.22,19.5,.14,18.9,.14]]
];

const rowTitles=[{t:["Updraft vertical velocity"],u:[["[m s",0],["−1",1],["]",0]],c:258,uc:253},
 {t:["Updraft mass flux"],u:[["[kg m",0],["−2",1],[" s",0],["−1",1],["]",0]],c:646,uc:636},
 {t:["Updraft area fraction"],u:[["[%]",0]],c:1023,uc:1021}];
const colLeft=[216,810,1405],rowTop=[87,475,851.7],colTitleX=[427,1022,1617];
const panels=[
 {r:0,c:0,polys:lesW,streaks:lesWStreaks,bg:"#a6a6a6",labels:wLabels,colors:wColors},
 {r:0,c:1,polys:ctrlW,labels:wLabels,colors:wColors},
 {r:0,c:2,polys:newW,labels:wLabels,colors:wColors},
 {r:1,c:0,polys:lesFlux,streaks:lesFluxStreaks,bg:"#a6a6a6",labels:fluxLabels,colors:fluxColors},
 {r:1,c:1,polys:ctrlFlux,streaks:ctrlFluxStreaks,labels:fluxLabels,colors:fluxColors},
 {r:1,c:2,polys:newFlux,labels:fluxLabels,colors:fluxColors},
 {r:2,c:0,polys:lesArea,streaks:lesAreaStreaks,labels:areaLabels,colors:areaColors},
 {r:2,c:1,polys:ctrlArea,streaks:ctrlAreaStreaks,labels:areaLabels,colors:areaColors},
 {r:2,c:2,polys:newArea,labels:areaLabels,colors:areaColors}];

const svg=d3.select("#c");
const SANS="'DejaVu Sans',sans-serif",SERIF="'Liberation Serif',serif";
const pairs=a=>d3.range(0,a.length,2).map(i=>[a[i],a[i+1]]);
panels.forEach((p,pi)=>{
 const L=colLeft[p.c],T=rowTop[p.r],W=p.r==2?378:380,H=306.4;
 const x=d3.scaleLinear([11.55,25.53],[L,L+W]),y=d3.scaleLinear([0,3.5],[T+H,T]);
 const g=svg.append("g");
 const id="cl"+pi;
 g.append("clipPath").attr("id",id).append("rect").attr("x",L).attr("y",T).attr("width",W).attr("height",H);
 const m=g.append("g").attr("clip-path",`url(#${id})`);
 if(p.bg)m.append("rect").attr("x",L).attr("y",T).attr("width",W).attr("height",H).attr("fill",p.bg);
 const polys=p.polys.map(([k,a])=>({k,pts:pairs(a)}));
 if(p.c==0){
  const line=d3.line().x(d=>x(d[0])).y(d=>y(d[1]));
  d3.sort(polys,d=>d.k).forEach(q=>m.append("path").attr("d",line(q.pts)+"Z").attr("fill",p.colors[q.k]));
 }else{
  const dt=1/24,paths=new Map();
  d3.range(12.25,24.6,dt).forEach(t=>{
   const cx=t+dt/2;
   let run=null;
   d3.pairs(modelLayers).forEach(([a,b])=>{
    const cy=(a+b)/2;let k=-1;
    polys.forEach(q=>{if(q.k>k&&d3.polygonContains(q.pts,[cx,cy]))k=q.k;});
    if(run&&run.k===k)run.b=b;
    else{flush(run);run=k>=0?{k,a,b}:null;}
    if(k<0)run=null;
   });
   flush(run);
   function flush(r){if(!r)return;
    const x0=x(t),x1=x(t+dt)+.6,y0=y(r.b),y1=y(r.a);
    paths.set(r.k,(paths.get(r.k)||"")+`M${x0.toFixed(1)} ${y0.toFixed(1)}H${x1.toFixed(1)}V${y1.toFixed(1)}H${x0.toFixed(1)}Z`);}
  });
  [...paths].sort((a,b)=>a[0]-b[0]).forEach(([k,d])=>m.append("path").attr("d",d).attr("fill",p.colors[k]));
 }
 (p.streaks||[]).forEach(s=>m.append("line").attr("x1",x(s[0])).attr("x2",x(s[0])).attr("y1",y(s[1])).attr("y2",y(s[2])).attr("stroke",p.colors[s[3]]).attr("stroke-width",1.3));
 // axes
 const ax=g.append("g").attr("transform",`translate(0,${T+H})`).call(d3.axisBottom(x).tickValues(hourTicks).tickFormat(d=>d%24).tickSize(4).tickPadding(4));
 const ay=g.append("g").attr("transform",`translate(${L},0)`).call(d3.axisLeft(y).tickValues(heightTicks).tickFormat(d3.format(".1f")).tickSize(4).tickPadding(4));
 [ax,ay].forEach(a=>{a.selectAll("text").attr("font-family",SANS).attr("font-size",15).attr("fill","#222");a.selectAll("line").attr("stroke","#444");a.select(".domain").remove();});
 g.append("rect").attr("x",L).attr("y",T).attr("width",W).attr("height",H).attr("fill","none").attr("stroke","#555").attr("stroke-width",1.3);
 g.append("text").attr("x",L+W/2-1).attr("y",T+H+39).attr("text-anchor","middle").attr("font-family",SANS).attr("font-size",15.4).attr("fill","#222").text("21 June 1997 (UTC)");
 g.append("text").attr("transform",`translate(${L-41},${T+H/2}) rotate(-90)`).attr("text-anchor","middle").attr("font-family",SANS).attr("font-size",15.4).attr("fill","#222").text("height above ground (km)");
 // colour bar
 const cbx=L+W+23,cbw=16,n=p.labels.length;
 const cy=d3.scalePoint(p.labels,[T+H,T+14.3]);
 const cb=g.append("g");
 d3.pairs(p.labels).forEach(([a,b],i)=>cb.append("rect").attr("x",cbx).attr("y",cy(b)).attr("width",cbw).attr("height",cy(a)-cy(b)+.4).attr("fill",p.colors[i]));
 const top=cy(p.labels[n-1]);
 const tri=`M${cbx} ${top}L${cbx+cbw/2} ${T}L${cbx+cbw} ${top}Z`;
 cb.append("path").attr("d",tri).attr("fill",p.colors[n-1]);
 cb.append("path").attr("d",`M${cbx} ${top}L${cbx+cbw/2} ${T}L${cbx+cbw} ${top}V${T+H}H${cbx}Z`).attr("fill","none").attr("stroke","#666").attr("stroke-width",1);
 const ca=cb.append("g").attr("transform",`translate(${cbx+cbw},0)`).call(d3.axisRight(cy).tickSize(3).tickPadding(4));
 ca.select(".domain").remove();ca.selectAll("line").attr("stroke","#444");
 ca.selectAll("text").attr("font-family",SANS).attr("font-size",15).attr("fill","#222");
});
columnTitles.forEach((t,i)=>svg.append("text").attr("x",colTitleX[i]).attr("y",45).attr("text-anchor","middle").attr("font-family",SERIF).attr("font-weight","bold").attr("font-size",38).attr("fill","#000").text(t));
rowTitles.forEach(r=>{
 svg.append("text").attr("transform",`translate(46,${r.c}) rotate(-90)`).attr("text-anchor","middle").attr("font-family",SERIF).attr("font-weight","bold").attr("font-size",38).attr("word-spacing",3).attr("fill","#000").text(r.t[0]);
 const t=svg.append("text").attr("transform",`translate(90,${r.uc}) rotate(-90)`).attr("text-anchor","middle").attr("font-family",SERIF).attr("font-size",40).attr("letter-spacing",2.5).attr("word-spacing",6).attr("fill","#000");
 r.u.forEach(([s,sup],i)=>{const ts=t.append("tspan").text(s);
  if(sup){ts.attr("font-size",28).attr("dy",-16);}
  else if(i>0&&r.u[i-1][1]){ts.attr("dy",16);}
 });
});
</script></body></html>
